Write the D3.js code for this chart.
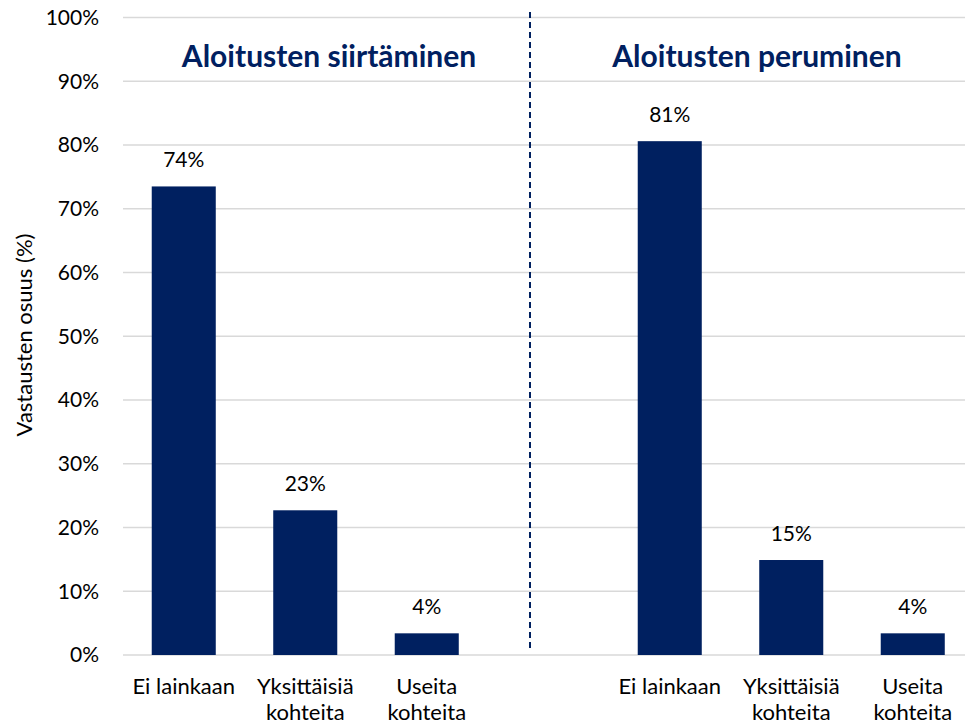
<!DOCTYPE html>
<html>
<head>
<meta charset="utf-8">
<script src="https://cdn.jsdelivr.net/npm/d3@7"></script>
<style>
body { margin: 0; background: #fff; }
text { font-family: Lato, "Open Sans", sans-serif; }
</style>
</head>
<body>
<script>
var width = 965, height = 728;

// data
var categories = ["a1", "a2", "a3", "gap", "b1", "b2", "b3"];
var catLabels = [["Ei lainkaan"], ["Yksittäisiä", "kohteita"], ["Useita", "kohteita"], [],
                 ["Ei lainkaan"], ["Yksittäisiä", "kohteita"], ["Useita", "kohteita"]];
var values = [73.5, 22.7, 3.4, null, 80.6, 14.9, 3.4];
var valueLabels = ["74%", "23%", "4%", "", "81%", "15%", "4%"];
var yTicks = [0, 10, 20, 30, 40, 50, 60, 70, 80, 90, 100];
var groupTitles = ["Aloitusten siirtäminen", "Aloitusten peruminen"];
var yTitle = "Vastausten osuus (%)";

var navy = "#002060";

var svg = d3.select("body")
            .append("svg")
            .attr("width", width)
            .attr("height", height);

var x = d3.scaleBand()
          .domain(categories)
          .range([123, 973.5])
          .paddingInner(0.473)
          .paddingOuter(0.2365);

var y = d3.scaleLinear()
          .domain([0, 100])
          .range([655, 17.5]);

// gridlines
svg.selectAll("line.grid")
   .data(yTicks)
   .enter()
   .append("line")
   .attr("class", "grid")
   .attr("x1", 123)
   .attr("x2", width)
   .attr("y1", function(d) { return y(d); })
   .attr("y2", function(d) { return y(d); })
   .attr("stroke", "#d9d9d9")
   .attr("stroke-width", 1.5);

// y tick labels
svg.selectAll("text.ytick")
   .data(yTicks)
   .enter()
   .append("text")
   .attr("class", "ytick")
   .attr("x", 99)
   .attr("y", function(d) { return y(d); })
   .attr("dy", "0.35em")
   .attr("text-anchor", "end")
   .attr("font-size", "21px")
   .attr("fill", "#000")
   .text(function(d) { return d + "%"; });

// y title
svg.append("text")
   .attr("transform", "translate(32,335) rotate(-90)")
   .attr("text-anchor", "middle")
   .attr("font-size", "22px")
   .attr("fill", "#000")
   .text(yTitle);

// bars
var barData = categories.map(function(c, i) { return {c: c, v: values[i], label: valueLabels[i], lines: catLabels[i]}; });

svg.selectAll("rect.bar")
   .data(barData.filter(function(d) { return d.v != null; }))
   .enter()
   .append("rect")
   .attr("class", "bar")
   .attr("x", function(d) { return x(d.c); })
   .attr("y", function(d) { return y(d.v); })
   .attr("width", x.bandwidth())
   .attr("height", function(d) { return y(0) - y(d.v); })
   .attr("fill", navy);

// value labels
svg.selectAll("text.val")
   .data(barData.filter(function(d) { return d.v != null; }))
   .enter()
   .append("text")
   .attr("class", "val")
   .attr("x", function(d) { return x(d.c) + x.bandwidth() / 2; })
   .attr("y", function(d) { return y(d.v) - 19; })
   .attr("text-anchor", "middle")
   .attr("font-size", "21px")
   .attr("fill", "#000")
   .text(function(d) { return d.label; });

// category labels
var cat = svg.selectAll("text.cat")
   .data(barData)
   .enter()
   .append("text")
   .attr("class", "cat")
   .attr("x", function(d) { return x(d.c) + x.bandwidth() / 2; })
   .attr("y", 694)
   .attr("text-anchor", "middle")
   .attr("font-size", "22px")
   .attr("fill", "#000");

cat.selectAll("tspan")
   .data(function(d) { return d.lines.map(function(t) { return {t: t, x: x(d.c) + x.bandwidth() / 2}; }); })
   .enter()
   .append("tspan")
   .attr("x", function(d) { return d.x; })
   .attr("dy", function(d, i) { return i === 0 ? 0 : 26; })
   .text(function(d) { return d.t; });

// divider
svg.append("line")
   .attr("x1", 530).attr("x2", 530)
   .attr("y1", 12).attr("y2", 652)
   .attr("stroke", navy)
   .attr("stroke-width", 2)
   .attr("stroke-dasharray", "6,4");

// group titles
svg.selectAll("text.gtitle")
   .data(groupTitles)
   .enter()
   .append("text")
   .attr("class", "gtitle")
   .attr("x", function(d, i) { return i === 0 ? 329 : 757; })
   .attr("y", 67)
   .attr("text-anchor", "middle")
   .attr("font-size", "30px")
   .attr("font-weight", "bold")
   .attr("fill", navy)
   .text(function(d) { return d; });
</script>
</body>
</html>
